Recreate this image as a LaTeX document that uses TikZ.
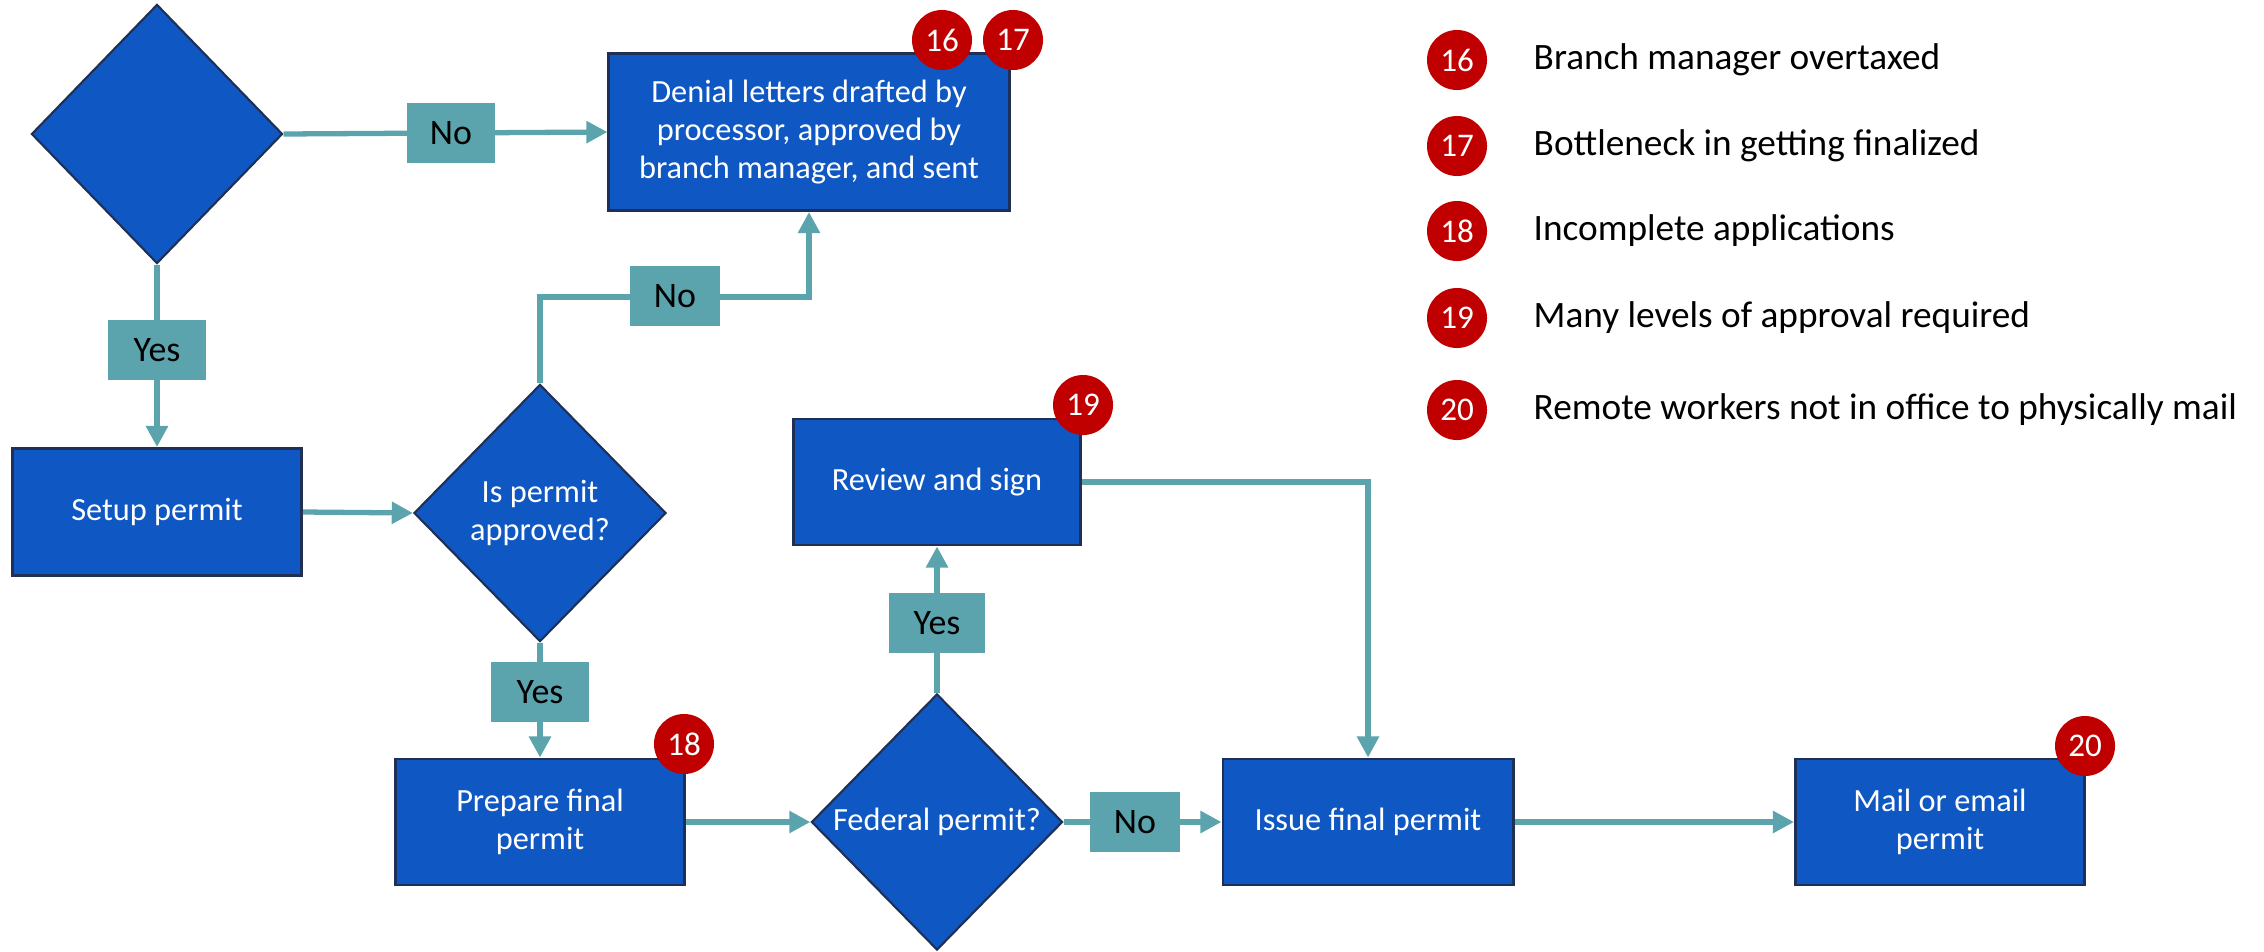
\documentclass[tikz,border=0pt]{standalone}
\usepackage{fontspec}
\setmainfont{Carlito}
\usetikzlibrary{shapes.geometric,arrows.meta}
\definecolor{boxblue}{HTML}{0F57C2}
\definecolor{edgenavy}{HTML}{1F2F55}
\definecolor{tealc}{HTML}{5BA3AD}
\definecolor{badgered}{HTML}{C00000}
\begin{document}
\begin{tikzpicture}[x=0.01cm,y=-0.01cm,
  procbox/.style={draw=edgenavy, line width=0.8pt, fill=boxblue, text=white,
    align=center, inner sep=0pt, font=\fontsize{9.2}{10.9}\selectfont},
  decision/.style={diamond, draw=edgenavy, line width=0.6pt, fill=boxblue, text=white,
    align=center, inner sep=0pt, font=\fontsize{9.2}{10.9}\selectfont},
  lbl/.style={fill=tealc, text=black, inner sep=0pt, minimum height=0.6cm,
    font=\fontsize{10.2}{11}\selectfont},
  badge/.style={circle, fill=badgered, text=white, inner sep=0pt, minimum size=0.6cm,
    font=\fontsize{9.4}{10}\selectfont},
  legtext/.style={anchor=west, inner sep=0pt, font=\fontsize{10.6}{12}\selectfont},
  conn/.style={draw=tealc, line width=1.5pt, -{Triangle[length=6pt,width=6pt]}}
]
\useasboundingbox (0,0) rectangle (2264,951);

% decision and process nodes
\node[decision, minimum width=2.51cm, minimum height=2.59cm] (d1) at (157,134) {};
\node[procbox, minimum width=4.0cm, minimum height=1.57cm] (deny) at (809,132)
  {Denial letters drafted by\\processor, approved by\\branch manager, and sent};
\node[procbox, minimum width=2.89cm, minimum height=1.27cm] (setup) at (157,512) {Setup permit};
\node[decision, minimum width=2.52cm, minimum height=2.57cm] (d2) at (540,513) {Is permit\\approved?};
\node[procbox, minimum width=2.89cm, minimum height=1.26cm] (prep) at (540,822) {Prepare final\\permit};
\node[decision, minimum width=2.51cm, minimum height=2.56cm] (d3) at (937,822) {Federal permit?};
\node[procbox, minimum width=2.87cm, minimum height=1.26cm] (review) at (937,482) {Review and sign};
\node[procbox, minimum width=2.90cm, minimum height=1.26cm] (issue) at (1368,822) {Issue final permit};
\node[procbox, minimum width=2.89cm, minimum height=1.26cm] (mail) at (1940,822) {Mail or email\\permit};

% connectors
\draw[conn] (d1.east) -- (deny.west);
\draw[conn] (d1.south) -- (setup.north);
\draw[conn] (setup.east) -- (d2.west);
\coordinate (k1) at (540,297);
\draw[conn] (d2.north) -- (k1) -| (deny.south);
\draw[conn] (d2.south) -- (prep.north);
\draw[conn] (prep.east) -- (d3.west);
\draw[conn] (d3.north) -- (review.south);
\draw[conn] (d3.east) -- (issue.west);
\draw[conn] (review.east) -| (issue.north);
\draw[conn] (issue.east) -- (mail.west);

% labels on connectors
\node[lbl, minimum width=0.88cm] (no1) at (451,133) {No};
\node[lbl, minimum width=0.89cm] (no2) at (675,296) {No};
\node[lbl, minimum width=0.97cm] (yes1) at (157,350) {Yes};
\node[lbl, minimum width=0.97cm] (yes2) at (540,692) {Yes};
\node[lbl, minimum width=0.96cm] (yes3) at (937,623) {Yes};
\node[lbl, minimum width=0.89cm] (no3) at (1135,822) {No};

% badges on the chart
\node[badge] (b16) at (942,40) {16};
\node[badge] (b17) at (1013,40) {17};
\node[badge] (b18) at (684,744) {18};
\node[badge] (b19) at (1083,405) {19};
\node[badge] (b20) at (2085,746) {20};

% legend
\node[badge] (l16) at (1457,60) {16};
\node[badge] (l17) at (1457,146) {17};
\node[badge] (l18) at (1457,231) {18};
\node[badge] (l19) at (1457,318) {19};
\node[badge] (l20) at (1457,410) {20};
\node[legtext] (t16) at (1533,60) {Branch manager overtaxed};
\node[legtext] (t17) at (1533,146) {Bottleneck in getting finalized};
\node[legtext] (t18) at (1533,231) {Incomplete applications};
\node[legtext] (t19) at (1533,318) {Many levels of approval required};
\node[legtext] (t20) at (1533,410) {Remote workers not in office to physically mail};
\end{tikzpicture}
\end{document}
